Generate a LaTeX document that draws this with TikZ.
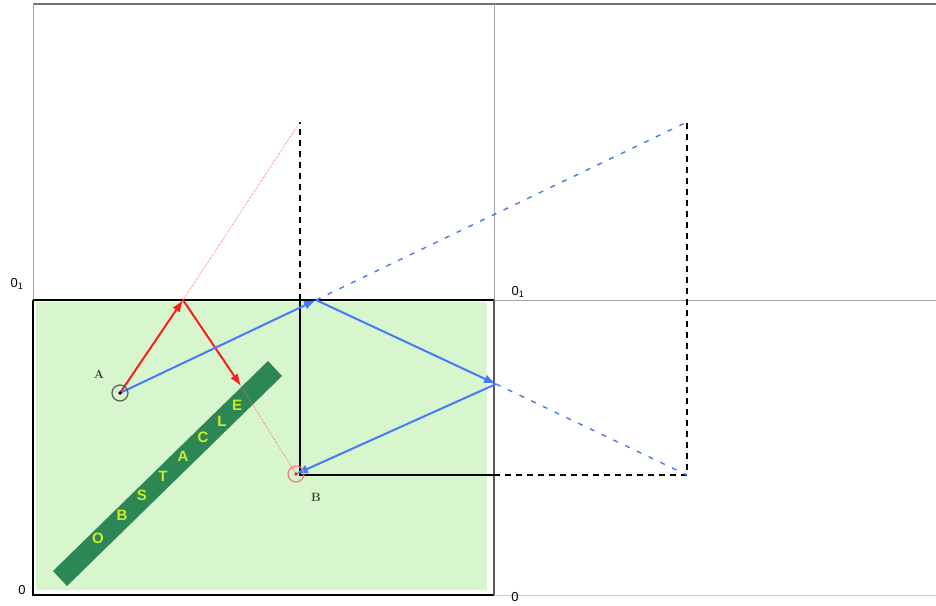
\documentclass[tikz,border=0pt]{standalone}
\usepackage{fontspec}
\setsansfont{Liberation Sans}
\usetikzlibrary{arrows.meta}

\definecolor{ray}{RGB}{250,30,30}
\definecolor{mirror}{RGB}{70,120,250}
\definecolor{floor}{RGB}{216,246,206}
\definecolor{bar}{RGB}{44,135,84}
\definecolor{barletter}{RGB}{205,235,40}

\tikzset{
  wall/.style={line width=1.4pt, black},
  grid/.style={line width=0.8pt, black!35},
  guide/.style={line width=1.3pt, black, dash pattern=on 6pt off 5pt},
  redray/.style={ray, line width=2pt, -{Latex[length=12pt,width=9pt]}},
  blueray/.style={mirror, line width=2pt, -{Latex[length=12pt,width=9pt]}},
  redtrace/.style={ray!70, line width=0.7pt, densely dotted},
  bluetrace/.style={mirror, line width=1.4pt, dash pattern=on 5pt off 8pt},
  letter/.style={barletter, font=\sffamily\bfseries\fontsize{15}{15}\selectfont},
  corner/.style={font=\sffamily\fontsize{13}{13}\selectfont}
}

\begin{document}
\begin{tikzpicture}[x=1pt,y=-1pt]
  \useasboundingbox (0,0) rectangle (936,605);
  \clip (0,0) rectangle (936,605);

  \coordinate (tl) at (33,4);
  \coordinate (tm) at (494,4);
  \coordinate (tr) at (936,4);
  \coordinate (ml) at (33,300);
  \coordinate (mm) at (494,300);
  \coordinate (mr) at (936,300);
  \coordinate (bl) at (33,595);
  \coordinate (bm) at (494,595);
  \coordinate (br) at (936,595);

  \coordinate (wx) at (300,300);
  \coordinate (wc) at (300,475);
  \coordinate (we) at (494,475);
  \coordinate (ie) at (687,475);
  \coordinate (it) at (687,122);
  \coordinate (rt) at (300,122);

  \coordinate (A) at (120,393);
  \coordinate (B) at (296,474);
  \coordinate (P1) at (183,300);
  \coordinate (P2) at (241,386);
  \coordinate (Q1) at (316,300);
  \coordinate (Q2) at (496,384);

  \fill[floor] (36,302) rectangle (487,590);

  \draw[grid, line width=1.8pt, black!55] (tl) -- (tr);
  \draw[grid] (tl) -- (ml);
  \draw[grid] (tm) -- (mm);
  \draw[grid] (mm) -- (mr);
  \draw[grid, black!20] (bm) -- (br);

  \draw[wall] (ml) -- (mm);
  \draw[wall] (ml) -- (bl) -- (bm);
  \draw[wall, black!65] (mm) -- (bm);
  \draw[wall] (wx) -- (wc) -- (we);
  \draw[guide] (we) -- (ie) -- (it);
  \draw[guide] (wx) -- (rt);

  \fill[bar] (53,571) -- (268,361) -- (282,376) -- (67,586) -- cycle;
  \foreach \ch/\x/\y [count=\i] in {O/98/538, B/122/515, S/142/495, T/163/476,
                                    A/183/456, C/203/437, L/222/421, E/237/405}
    \node[letter] (letter\i) at (\x,\y) {\ch};

  \draw[redtrace] (P2) -- (B);
  \draw[redtrace] (P1) -- (rt);
  \draw[bluetrace] (Q1) -- (it);
  \draw[bluetrace] (Q2) -- (ie);

  \draw[redray] (A) -- (P1);
  \draw[redray] (P1) -- (P2);
  \draw[blueray] (A) -- (Q1);
  \draw[blueray] (Q1) -- (Q2);
  \draw[blueray] (Q2) -- (B);

  \node[draw=black!65, circle, line width=1.2pt, minimum size=16pt, inner sep=0pt] (markA) at (A) {};
  \fill[black] (A) circle (1.8pt);
  \node[draw=ray!60, circle, line width=1.2pt, minimum size=16pt, inner sep=0pt] (markB) at (B) {};
  \fill[ray] (B) circle (1.8pt);

  \node[black!80, font=\bfseries\fontsize{12}{12}\selectfont] (labA) at (99,374) {A};
  \node[black!80, font=\bfseries\fontsize{12}{12}\selectfont] (labB) at (316,497) {B};

  \node[corner] (zeroTL) at (17,284) {0\textsubscript{1}};
  \node[corner] (zeroBL) at (22,590) {0};
  \node[corner] (zeroTR) at (518,292) {0\textsubscript{1}};
  \node[corner, inner sep=1pt] (zeroBR) at (515,597) {0};
\end{tikzpicture}
\end{document}
